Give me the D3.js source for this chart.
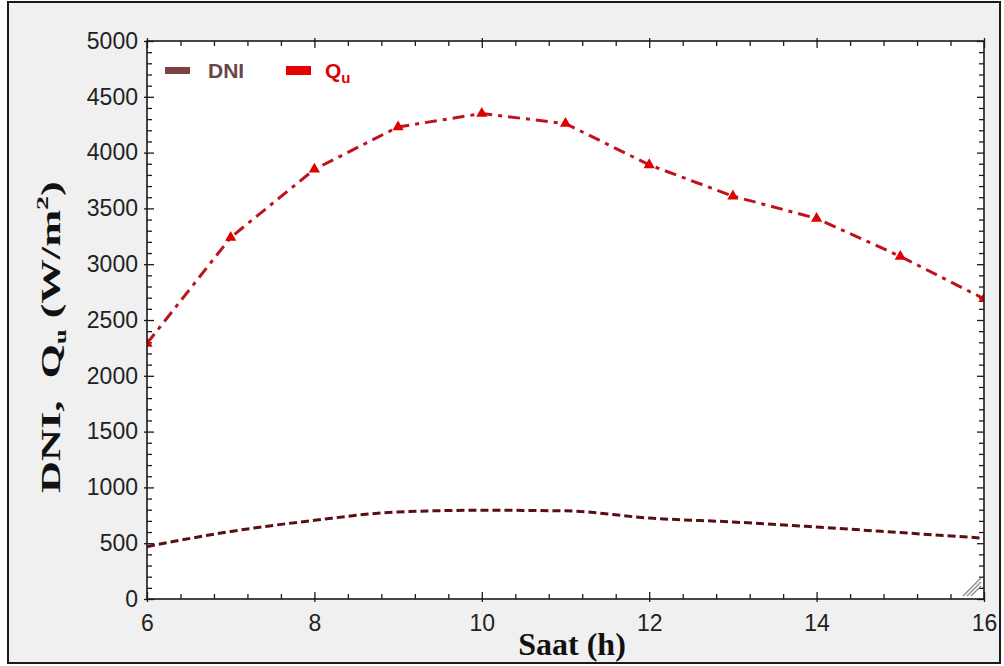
<!DOCTYPE html>
<html>
<head>
<meta charset="utf-8">
<script src="https://cdn.jsdelivr.net/npm/d3@7"></script>
<style>
  html, body { margin: 0; padding: 0; background: #ffffff; }
  svg { display: block; }
</style>
</head>
<body>
<svg id="chart" width="1004" height="666"></svg>
<script>
// Hourly values
const hours = [6, 7, 8, 9, 10, 11, 12, 13, 14, 15, 16];
const dni   = [470, 605, 705, 780, 795, 790, 725, 690, 645, 595, 545];
const qu    = [2290, 3240, 3850, 4230, 4350, 4260, 3890, 3610, 3410, 3070, 2690];

// Axis ticks
const xMajor = [6, 8, 10, 12, 14, 16];
const yMajor = [0, 500, 1000, 1500, 2000, 2500, 3000, 3500, 4000, 4500, 5000];

const svg = d3.select("#chart");
const W = 1004, H = 666;

// Window frame
svg.append("rect").attr("x", 0).attr("y", 0).attr("width", W).attr("height", H).attr("fill", "#ffffff");
svg.append("rect").attr("x", 8).attr("y", 2).attr("width", 992).attr("height", 661)
  .attr("fill", "#f0f0f0").attr("stroke", "#1a1a1a").attr("stroke-width", 2);

const plot = { left: 147, top: 41, right: 984, bottom: 599 };

const x = d3.scaleLinear().domain([6, 16]).range([plot.left, plot.right]);
const y = d3.scaleLinear().domain([0, 5000]).range([plot.bottom, plot.top]);

const xMinor = d3.range(6, 16.001, 0.4).filter(v => !xMajor.some(m => Math.abs(m - v) < 1e-6));
const yMinor = d3.range(0, 5001, 100).filter(v => v % 500 !== 0);

// Plot background
svg.append("rect")
  .attr("x", plot.left).attr("y", plot.top)
  .attr("width", plot.right - plot.left).attr("height", plot.bottom - plot.top)
  .attr("fill", "#ffffff");

svg.append("clipPath").attr("id", "plotClip")
  .append("rect")
  .attr("x", plot.left).attr("y", plot.top)
  .attr("width", plot.right - plot.left).attr("height", plot.bottom - plot.top);

const tickFont = "'Liberation Sans', Arial, sans-serif";

function styleAxis(g) {
  g.select(".domain").remove();
  g.selectAll(".tick line").attr("stroke", "#1a1a1a").attr("stroke-width", 1.3);
  g.selectAll(".tick text")
    .attr("fill", "#222")
    .style("font-family", tickFont)
    .style("font-size", "23px");
}

// Left axis: labels + inward major ticks
svg.append("g").attr("transform", `translate(${plot.left},0)`)
  .call(d3.axisLeft(y).tickValues(yMajor).tickSizeInner(-7).tickSizeOuter(0).tickPadding(9).tickFormat(d3.format("d")))
  .call(styleAxis);
// short outward stubs on major ticks
svg.append("g").attr("transform", `translate(${plot.left},0)`)
  .call(d3.axisLeft(y).tickValues(yMajor).tickSizeInner(3).tickSizeOuter(0).tickFormat(""))
  .call(styleAxis);
svg.append("g").attr("transform", `translate(${plot.left},0)`)
  .call(d3.axisLeft(y).tickValues(yMinor).tickSizeInner(-5).tickSizeOuter(0).tickFormat(""))
  .call(styleAxis);

// Right axis ticks
svg.append("g").attr("transform", `translate(${plot.right},0)`)
  .call(d3.axisRight(y).tickValues(yMajor).tickSizeInner(-7).tickSizeOuter(0).tickFormat(""))
  .call(styleAxis);
svg.append("g").attr("transform", `translate(${plot.right},0)`)
  .call(d3.axisRight(y).tickValues(yMinor).tickSizeInner(-5).tickSizeOuter(0).tickFormat(""))
  .call(styleAxis);

// Bottom axis: labels + inward ticks
svg.append("g").attr("transform", `translate(0,${plot.bottom})`)
  .call(d3.axisBottom(x).tickValues(xMajor).tickSizeInner(-7).tickSizeOuter(0).tickPadding(16).tickFormat(d3.format("d")))
  .call(styleAxis);
svg.append("g").attr("transform", `translate(0,${plot.bottom})`)
  .call(d3.axisBottom(x).tickValues(xMajor).tickSizeInner(3).tickSizeOuter(0).tickFormat(""))
  .call(styleAxis);
svg.append("g").attr("transform", `translate(0,${plot.bottom})`)
  .call(d3.axisBottom(x).tickValues(xMinor).tickSizeInner(-5).tickSizeOuter(0).tickFormat(""))
  .call(styleAxis);

// Top axis ticks
svg.append("g").attr("transform", `translate(0,${plot.top})`)
  .call(d3.axisTop(x).tickValues(xMajor).tickSizeInner(-7).tickSizeOuter(0).tickFormat(""))
  .call(styleAxis);
svg.append("g").attr("transform", `translate(0,${plot.top})`)
  .call(d3.axisTop(x).tickValues(xMajor).tickSizeInner(3).tickSizeOuter(0).tickFormat(""))
  .call(styleAxis);
svg.append("g").attr("transform", `translate(0,${plot.top})`)
  .call(d3.axisTop(x).tickValues(xMinor).tickSizeInner(-5).tickSizeOuter(0).tickFormat(""))
  .call(styleAxis);

// Series
const lines = svg.append("g").attr("clip-path", "url(#plotClip)");

const dniLine = d3.line().x((d, i) => x(hours[i])).y(d => y(d)).curve(d3.curveMonotoneX);
const quLine  = d3.line().x((d, i) => x(hours[i])).y(d => y(d)).curve(d3.curveLinear);

lines.append("path").datum(dni)
  .attr("d", dniLine)
  .attr("fill", "none")
  .attr("stroke", "#5a0f15")
  .attr("stroke-width", 3)
  .attr("stroke-dasharray", "8,4");

lines.append("path").datum(qu)
  .attr("d", quLine)
  .attr("fill", "none")
  .attr("stroke", "#c0121c")
  .attr("stroke-width", 3)
  .attr("stroke-dasharray", "12,6,4,6");

lines.selectAll(".marker").data(qu).join("path")
  .attr("class", "marker")
  .attr("transform", (d, i) => `translate(${x(hours[i])},${y(d)})`)
  .attr("d", d3.symbol().type(d3.symbolTriangle).size(55))
  .attr("fill", "#e00000");

// Resize grip in the corner of the plot
const grip = svg.append("g").attr("stroke", "#8a8a8a").attr("stroke-width", 1.2);
[0, 4, 8].forEach(o => {
  grip.append("line")
    .attr("x1", plot.right - 3 - o - 10).attr("y1", plot.bottom - 3)
    .attr("x2", plot.right - 3).attr("y2", plot.bottom - 3 - o - 10);
});

// Plot frame
svg.append("rect")
  .attr("x", plot.left).attr("y", plot.top)
  .attr("width", plot.right - plot.left).attr("height", plot.bottom - plot.top)
  .attr("fill", "none").attr("stroke", "#1a1a1a").attr("stroke-width", 1.6);

// Legend
const legend = svg.append("g").style("font-family", tickFont).style("font-weight", "bold");
legend.append("rect").attr("x", 165).attr("y", 67).attr("width", 25).attr("height", 7).attr("fill", "#7a4444");
legend.append("text").attr("x", 208).attr("y", 78).attr("fill", "#6b4646")
  .style("font-size", "21px").text("DNI");
legend.append("rect").attr("x", 286).attr("y", 66).attr("width", 25).attr("height", 9).attr("fill", "#e80000");
const lq = legend.append("text").attr("x", 325).attr("y", 78).attr("fill", "#e00000").style("font-size", "21px");
lq.append("tspan").text("Q");
lq.append("tspan").attr("dy", 5).style("font-size", "15px").text("u");

// Axis titles
const serif = "'Liberation Serif', 'Times New Roman', serif";
svg.append("text")
  .attr("x", 572).attr("y", 655)
  .attr("text-anchor", "middle")
  .style("font-family", serif).style("font-weight", "bold").style("font-size", "32px")
  .attr("fill", "#111")
  .text("Saat (h)");

const yt = svg.append("g").attr("transform", "translate(60,337) rotate(-90)");
const ytText = yt.append("text")
  .attr("x", 0).attr("y", 0)
  .style("font-family", serif).style("font-weight", "bold").style("font-size", "27px")
  .attr("fill", "#111");
ytText.append("tspan").text("DNI,\u00a0\u00a0Q");
ytText.append("tspan").attr("dy", 6).style("font-size", "16px").text("u");
ytText.append("tspan").attr("dy", -6).text("\u00a0(W/m");
ytText.append("tspan").attr("dy", -12).style("font-size", "17px").text("2");
ytText.append("tspan").attr("dy", 12).text(")");
const natural = ytText.node().getComputedTextLength();
const target = 312;
ytText.attr("transform", `scale(${target / natural},1) translate(${-natural / 2},0)`);
</script>
</body>
</html>
